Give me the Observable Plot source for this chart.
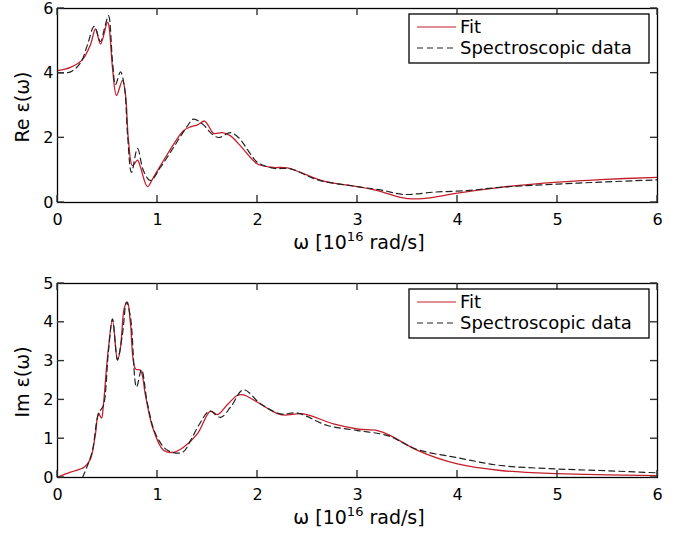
<!DOCTYPE html>
<html><head><meta charset="utf-8">
<script src="https://cdn.jsdelivr.net/npm/d3@7"></script>
<script src="https://cdn.jsdelivr.net/npm/@observablehq/plot@0.6"></script>
<style>body{margin:0;background:#fff} #chart{width:690px} svg{display:block}</style>
</head><body><div id="chart"></div>
<script>
// ---- data ----
const xTicks = [0, 1, 2, 3, 4, 5, 6];
const reTicks = [0, 2, 4, 6];
const imTicks = [0, 1, 2, 3, 4, 5];
const seriesNames = ["Fit", "Spectroscopic data"];

const reFitW = [0, 0.13, 0.25, 0.33, 0.38, 0.43, 0.50, 0.515, 0.55, 0.59, 0.65, 0.68, 0.71, 0.75, 0.80, 0.83, 0.90, 0.96, 1.10, 1.26, 1.33, 1.40, 1.47, 1.51, 1.56, 1.65, 1.73, 1.83, 1.93, 2.0, 2.13, 2.30, 2.43, 2.66, 3.0, 3.2, 3.43, 3.56, 3.76, 4.0, 4.43, 5.0, 5.43, 6.0];
const reFitV = [4.08, 4.18, 4.42, 4.88, 5.37, 4.90, 5.58, 5.45, 4.16, 3.31, 3.78, 3.34, 1.91, 1.14, 1.31, 1.09, 0.49, 0.78, 1.50, 2.22, 2.34, 2.40, 2.52, 2.37, 2.14, 2.16, 2.06, 1.75, 1.39, 1.19, 1.09, 1.07, 0.93, 0.66, 0.49, 0.37, 0.16, 0.11, 0.16, 0.29, 0.47, 0.63, 0.71, 0.78];

const reDataW = [0, 0.13, 0.23, 0.30, 0.367, 0.43, 0.47, 0.51, 0.55, 0.58, 0.63, 0.67, 0.70, 0.74, 0.80, 0.86, 0.93, 1.03, 1.16, 1.30, 1.36, 1.46, 1.53, 1.61, 1.73, 1.81, 1.93, 2.0, 2.16, 2.33, 2.6, 3.0, 3.23, 3.46, 3.76, 4.1, 4.43, 5.0, 5.43, 6.0];
const reDataV = [4.01, 4.04, 4.32, 4.88, 5.45, 4.98, 5.39, 5.78, 4.37, 3.65, 4.04, 3.55, 2.12, 0.93, 1.67, 0.98, 0.68, 1.09, 1.70, 2.37, 2.58, 2.40, 2.16, 2.01, 2.16, 2.01, 1.50, 1.24, 1.06, 1.04, 0.70, 0.49, 0.39, 0.25, 0.32, 0.37, 0.47, 0.57, 0.63, 0.70];

const imFitW = [0, 0.13, 0.27, 0.33, 0.38, 0.41, 0.44, 0.46, 0.50, 0.55, 0.60, 0.63, 0.67, 0.70, 0.73, 0.78, 0.83, 0.88, 0.95, 1.06, 1.16, 1.26, 1.40, 1.53, 1.60, 1.70, 1.80, 1.86, 2.0, 2.23, 2.46, 2.76, 3.0, 3.2, 3.33, 3.6, 4.0, 4.43, 5.0, 6.0];
const imFitV = [0.01, 0.14, 0.27, 0.48, 1.13, 1.66, 1.53, 1.90, 3.10, 4.05, 3.02, 3.36, 4.39, 4.52, 3.96, 2.80, 2.76, 2.11, 1.30, 0.70, 0.65, 0.78, 1.13, 1.71, 1.62, 1.88, 2.12, 2.13, 1.94, 1.62, 1.64, 1.38, 1.25, 1.21, 1.08, 0.70, 0.35, 0.18, 0.10, 0.05];

const imDataW = [0.25, 0.30, 0.35, 0.40, 0.43, 0.46, 0.51, 0.55, 0.60, 0.65, 0.69, 0.73, 0.79, 0.84, 0.90, 0.98, 1.10, 1.25, 1.33, 1.42, 1.52, 1.63, 1.73, 1.86, 2.03, 2.23, 2.40, 2.70, 3.0, 3.30, 3.6, 4.0, 4.43, 5.0, 5.43, 6.0];
const imDataV = [0, 0.31, 0.70, 1.55, 1.73, 1.86, 3.27, 4.09, 3.04, 3.70, 4.52, 4.13, 2.33, 2.78, 1.90, 1.13, 0.70, 0.65, 0.95, 1.38, 1.71, 1.55, 1.81, 2.26, 1.90, 1.64, 1.66, 1.34, 1.21, 1.08, 0.72, 0.51, 0.31, 0.22, 0.18, 0.12];

const RED = "#c41e2a", DARK = "#222";
const FONT = "DejaVu Sans";
const W = 690, ML = 57, MR = 33, TICK = 7;
const xDomain = [0, 6];

function panel({fitW, fitV, dataW, dataV, yDomain, yTicks, yLabel, height, marginTop, marginBottom, legendTop}) {
  const fit = fitW.map((w, i) => ({w, v: fitV[i]}));
  const dat = dataW.map((w, i) => ({w, v: dataV[i]}));
  const svg = Plot.plot({
    width: W, height, marginLeft: ML, marginRight: MR, marginTop, marginBottom,
    style: {fontFamily: FONT, fontSize: "16px", color: "#000", background: "#fff", overflow: "visible"},
    x: {domain: xDomain},
    y: {domain: yDomain},
    marks: [
      Plot.line(fit, {x: "w", y: "v", stroke: RED, strokeWidth: 1.3, curve: "catmull-rom"}),
      Plot.line(dat, {x: "w", y: "v", stroke: DARK, strokeWidth: 1.2, strokeDasharray: "6,4", curve: "catmull-rom"}),
      Plot.axisX({anchor: "bottom", ticks: xTicks, tickSize: 0, tickPadding: 11, tickFormat: d => String(d), label: null}),
      Plot.axisY({anchor: "left", ticks: yTicks, tickSize: 0, tickPadding: 4, tickFormat: d => String(d), label: null}),
      Plot.frame({stroke: "#000", strokeWidth: 1.3})
    ]
  });
  const s = d3.select(svg);
  const sx = svg.scale("x"), sy = svg.scale("y");
  const x0 = sx.apply(xDomain[0]), x1 = sx.apply(xDomain[1]);
  const y0 = sy.apply(yDomain[0]), y1 = sy.apply(yDomain[1]);
  // inward ticks on all four sides, positioned by Plot's scales
  const tg = s.append("g").attr("stroke", "#333").attr("stroke-width", 1.4);
  xTicks.forEach(v => {
    const px = sx.apply(v);
    tg.append("line").attr("x1", px).attr("x2", px).attr("y1", y0).attr("y2", y0 - TICK);
    tg.append("line").attr("x1", px).attr("x2", px).attr("y1", y1).attr("y2", y1 + TICK);
  });
  yTicks.forEach(v => {
    const py = sy.apply(v);
    tg.append("line").attr("x1", x0).attr("x2", x0 + TICK).attr("y1", py).attr("y2", py);
    tg.append("line").attr("x1", x1).attr("x2", x1 - TICK).attr("y1", py).attr("y2", py);
  });
  const plotBottom = height - marginBottom;
  // x label with superscript
  const xl = s.append("text").attr("x", 359).attr("y", plotBottom + 47)
    .attr("text-anchor", "middle").attr("font-family", FONT).attr("font-size", 19).attr("fill", "#000");
  xl.append("tspan").text("ω [10");
  xl.append("tspan").attr("dy", -8).attr("font-size", 13).text("16");
  xl.append("tspan").attr("dy", 8).text(" rad/s]");
  // y label
  s.append("text").attr("transform", `translate(29,${(marginTop + plotBottom) / 2 + 2}) rotate(-90)`)
    .attr("text-anchor", "middle").attr("font-family", FONT).attr("font-size", 19).attr("fill", "#000")
    .text(yLabel);
  // legend
  const lg = s.append("g");
  lg.append("rect").attr("x", 409).attr("y", legendTop).attr("width", 240).attr("height", 49)
    .attr("fill", "#fff").attr("stroke", "#000").attr("stroke-width", 1.3);
  const rows = [{name: seriesNames[0], stroke: RED, dash: null}, {name: seriesNames[1], stroke: DARK, dash: "6,4"}];
  rows.forEach((r, i) => {
    const yy = legendTop + 13 + i * 21;
    lg.append("line").attr("x1", 417).attr("x2", 456).attr("y1", yy).attr("y2", yy)
      .attr("stroke", r.stroke).attr("stroke-width", 1.2).attr("stroke-dasharray", r.dash);
    lg.append("text").attr("x", 460).attr("y", yy + 6).attr("text-anchor", "start")
      .attr("font-family", FONT).attr("font-size", 18).attr("fill", "#000").text(r.name);
  });
  return svg;
}

const chart = document.getElementById("chart");
chart.appendChild(panel({fitW: reFitW, fitV: reFitV, dataW: reDataW, dataV: reDataV,
  yDomain: [0, 6], yTicks: reTicks, yLabel: "Re ε(ω)", height: 265, marginTop: 8, marginBottom: 63, legendTop: 14}));
chart.appendChild(panel({fitW: imFitW, fitV: imFitV, dataW: imDataW, dataV: imDataV,
  yDomain: [0, 5], yTicks: imTicks, yLabel: "Im ε(ω)", height: 270, marginTop: 18, marginBottom: 58, legendTop: 24}));
</script>
</body></html>
